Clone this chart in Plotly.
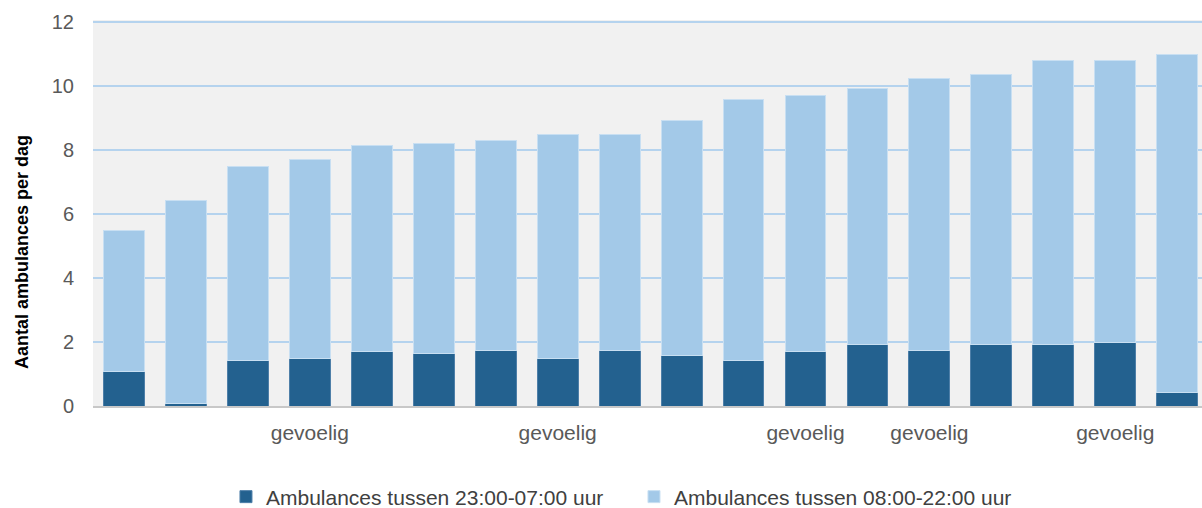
import plotly.graph_objects as go

positions = list(range(18))
tick_labels = ["", "", "", "gevoelig", "", "", "", "gevoelig", "", "", "", "gevoelig", "", "gevoelig", "", "", "gevoelig", ""]

night = [1.08, 0.07, 1.42, 1.47, 1.70, 1.65, 1.74, 1.47, 1.74, 1.58, 1.41, 1.69, 1.93, 1.74, 1.93, 1.92, 1.97, 0.42]
day = [4.39, 6.34, 6.06, 6.22, 6.43, 6.55, 6.56, 7.00, 6.73, 7.34, 8.16, 8.00, 7.99, 8.50, 8.42, 8.88, 8.83, 10.55]

dark = "#23618F"
light = "#A3C9E8"

fig = go.Figure()
fig.add_trace(go.Bar(
    x=positions, y=night, name="Ambulances tussen 23:00-07:00 uur",
    marker=dict(color=dark, line=dict(color="#4E7FA8", width=1)), width=0.66,
))
fig.add_trace(go.Bar(
    x=positions, y=day, name="Ambulances tussen 08:00-22:00 uur",
    marker=dict(color=light, line=dict(color="#C8DFF2", width=1)), width=0.66,
))

font_family = "Liberation Sans, Arial, sans-serif"

fig.update_layout(
    width=1202, height=508,
    barmode="stack",
    paper_bgcolor="white",
    plot_bgcolor="#F1F1F1",
    margin=dict(l=93, r=0, t=20, b=102),
    font=dict(family=font_family, size=20, color="#595959"),
    showlegend=True,
    legend=dict(
        orientation="h", xref="container", yref="container",
        x=0.188, xanchor="left", y=0.0217, yanchor="middle",
        traceorder="normal", font=dict(size=21, color="#404040"),
        itemwidth=30, entrywidth=363,
    ),
    xaxis=dict(
        range=[-0.5, 17.4], tickmode="array", tickvals=positions, ticktext=tick_labels,
        showgrid=False, zeroline=False, showline=True, linecolor="#C8C8C8", linewidth=2,
        ticks="", ticklabelstandoff=7, tickfont=dict(size=21, color="#595959"),
    ),
    yaxis=dict(
        range=[0, 12.06], tickmode="array", tickvals=[0, 2, 4, 6, 8, 10, 12],
        showgrid=True, gridcolor="#B5D3EE", gridwidth=2, zeroline=False,
        ticks="", ticklabelstandoff=18, tickfont=dict(size=20, color="#595959"),
    ),
    annotations=[dict(
        text="Aantal ambulances per dag", textangle=-90,
        xref="paper", yref="paper", x=-0.064, y=0.399,
        xanchor="center", yanchor="middle", showarrow=False,
        font=dict(size=18, color="#000000", family=font_family, weight="bold"),
    )],
)

fig.write_html("out.html", config={"displayModeBar": False},
               post_script="document.body.style.margin='0';")
